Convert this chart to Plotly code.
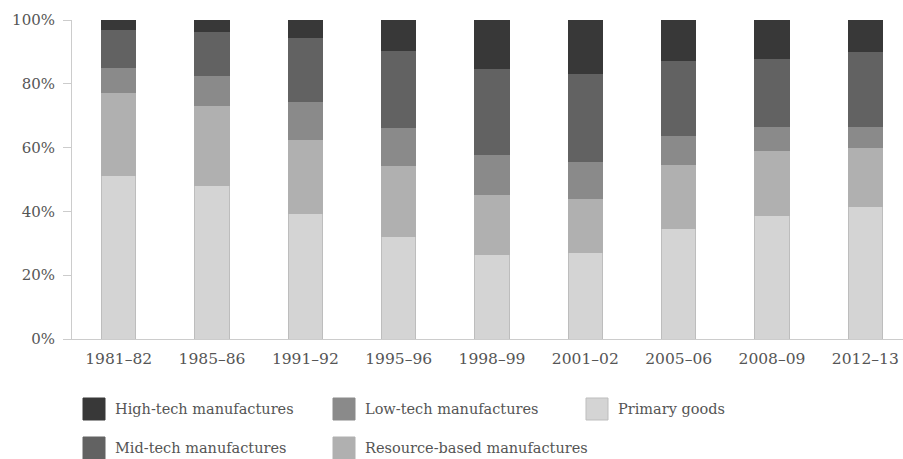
import plotly.graph_objects as go

periods = ["1981–82", "1985–86", "1991–92", "1995–96", "1998–99",
           "2001–02", "2005–06", "2008–09", "2012–13"]

primary_goods = [51.3, 48.2, 39.2, 32.2, 26.4, 27.1, 34.6, 38.8, 41.6]
resource_based = [26.0, 25.0, 23.4, 22.2, 18.9, 16.9, 20.2, 20.2, 18.3]
low_tech = [7.7, 9.4, 11.7, 12.0, 12.6, 11.7, 9.1, 7.5, 6.6]
mid_tech = [12.1, 13.7, 20.3, 24.0, 26.9, 27.6, 23.5, 21.5, 23.5]
high_tech = [2.9, 3.7, 5.4, 9.6, 15.2, 16.7, 12.6, 12.0, 10.0]

y_ticks = [0, 20, 40, 60, 80, 100]
y_tick_labels = ["0%", "20%", "40%", "60%", "80%", "100%"]

# stacked bottom -> top
series = [
    ("Primary goods", primary_goods, "#d4d4d4", "#bdbdbd"),
    ("Resource-based manufactures", resource_based, "#b0b0b0", "#b0b0b0"),
    ("Low-tech manufactures", low_tech, "#8a8a8a", "#8a8a8a"),
    ("Mid-tech manufactures", mid_tech, "#626262", "#626262"),
    ("High-tech manufactures", high_tech, "#383838", "#383838"),
]

FONT = "DejaVu Serif"
TXT = "#555555"

fig = go.Figure()
for name, vals, col, edge in series:
    fig.add_trace(go.Bar(
        x=periods, y=vals, name=name,
        marker=dict(color=col, line=dict(color=edge, width=1)),
        showlegend=False,
    ))

W, H = 903, 459
ML, MR, MT, MB = 72, 0, 20, 120
PW, PH = W - ML - MR, H - MT - MB


def px(x):
    # x in page pixels -> paper
    return (x - ML) / PW


def py(y):
    # y in page pixels -> paper
    return (H - MB - y) / PH


# manual legend (row-wise order as in the reference)
legend_items = [
    ("High-tech manufactures", "#383838", "#383838", 83, 398),
    ("Low-tech manufactures", "#8a8a8a", "#8a8a8a", 333, 398),
    ("Primary goods", "#d4d4d4", "#bdbdbd", 586, 398),
    ("Mid-tech manufactures", "#626262", "#626262", 83, 437),
    ("Resource-based manufactures", "#b0b0b0", "#b0b0b0", 333, 437),
]
shapes = []
annotations = []
for label, col, edge, x0, y0 in legend_items:
    shapes.append(dict(type="rect", xref="paper", yref="paper",
                       x0=px(x0), x1=px(x0 + 22), y0=py(y0), y1=py(y0 + 22),
                       fillcolor=col, line=dict(color=edge, width=1)))
    annotations.append(dict(xref="paper", yref="paper", x=px(x0 + 30), y=py(y0 + 11),
                            text=label, showarrow=False, xanchor="left", yanchor="middle",
                            font=dict(family=FONT, size=14.5, color=TXT)))

fig.update_layout(
    width=W, height=H,
    margin=dict(l=ML, r=MR, t=MT, b=MB, autoexpand=False),
    barmode="stack",
    bargap=0.635,
    plot_bgcolor="white", paper_bgcolor="white",
    font=dict(family=FONT, size=14, color=TXT),
    shapes=shapes,
    annotations=annotations,
    xaxis=dict(
        range=[-0.5, -0.5 + PW / 93.33],
        showline=True, linecolor="#cccccc", linewidth=1,
        ticks="", showgrid=False, zeroline=False,
        tickfont=dict(family=FONT, size=15.5, color=TXT),
        ticklabelstandoff=5,
    ),
    yaxis=dict(
        range=[0, 100], tickvals=y_ticks, ticktext=y_tick_labels,
        showline=True, linecolor="#cccccc", linewidth=1,
        ticks="outside", ticklen=8, tickcolor="#cccccc",
        showgrid=False, zeroline=False,
        tickfont=dict(family=FONT, size=15, color=TXT),
        ticklabelstandoff=5,
    ),
)

fig.write_html(
    "out.html",
    config={"displayModeBar": False},
    post_script="document.body.style.margin='0';document.body.style.overflow='hidden';",
)
